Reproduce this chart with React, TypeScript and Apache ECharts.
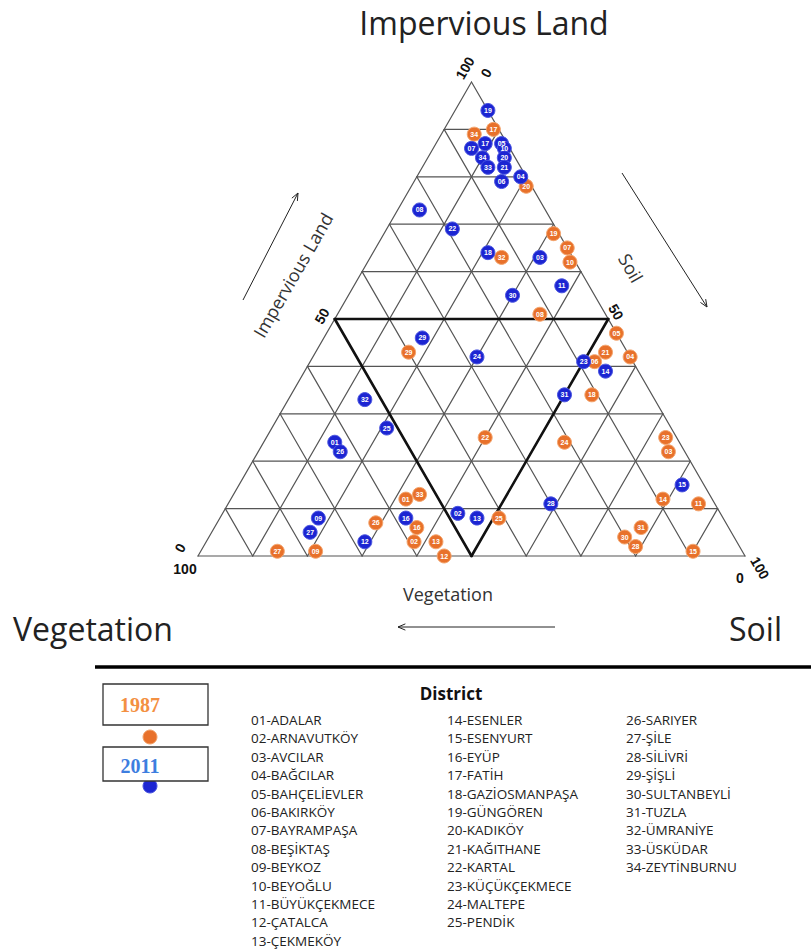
import React, { useEffect, useRef } from "react";
import * as echarts from "echarts";

// Grid tick values (percent) for the ternary diagram
const TICKS = [10, 20, 30, 40, 50, 60, 70, 80, 90];

// 1987 districts: id, Impervious %, Soil % (Vegetation = 100 - both)
const IDS_1987 = ["17", "34", "20", "19", "07", "10", "32", "08", "29", "05", "21", "04", "06", "18", "22", "24", "23", "03", "14", "11", "31", "30", "28", "15", "27", "09", "26", "01", "33", "16", "02", "13", "12", "25"];
const IMP_1987 = [90, 89, 78, 68, 65, 62, 63, 51, 43, 47, 43, 42, 41, 34, 25, 24, 25, 22, 12, 11, 6, 4, 2, 1, 1, 1, 7, 12, 13, 6, 3, 3, 0, 8];
const SOIL_1987 = [9, 6, 21, 31, 35, 37, 24, 37, 17, 53, 53, 58, 52, 55, 40, 55, 73, 75, 79, 86, 78, 76, 79, 90, 14, 21, 29, 32, 34, 37, 38, 42, 45, 51];

// 2011 districts
const IDS_2011 = ["19", "17", "05", "07", "10", "34", "20", "33", "21", "04", "06", "08", "22", "18", "03", "11", "30", "29", "24", "23", "14", "31", "32", "25", "01", "26", "15", "28", "09", "27", "12", "16", "02", "13"];
const IMP_2011 = [94, 87, 87, 86, 86, 84, 84, 82, 82, 80, 79, 73, 69, 64, 63, 57, 55, 46, 42, 41, 39, 34, 33, 27, 24, 22, 15, 11, 8, 5, 3, 8, 9, 8];
const SOIL_2011 = [6, 9, 12, 7, 13, 10, 14, 12, 15, 19, 16, 4, 12, 21, 31, 38, 30, 18, 30, 50, 55, 50, 14, 21, 13, 15, 81, 59, 18, 18, 29, 34, 43, 47];

const DISTRICTS = [
  "01-ADALAR", "02-ARNAVUTKÖY", "03-AVCILAR", "04-BAĞCILAR", "05-BAHÇELİEVLER", "06-BAKIRKÖY",
  "07-BAYRAMPAŞA", "08-BEŞİKTAŞ", "09-BEYKOZ", "10-BEYOĞLU", "11-BÜYÜKÇEKMECE", "12-ÇATALCA",
  "13-ÇEKMEKÖY", "14-ESENLER", "15-ESENYURT", "16-EYÜP", "17-FATİH", "18-GAZİOSMANPAŞA",
  "19-GÜNGÖREN", "20-KADIKÖY", "21-KAĞITHANE", "22-KARTAL", "23-KÜÇÜKÇEKMECE", "24-MALTEPE",
  "25-PENDİK", "26-SARIYER", "27-ŞİLE", "28-SİLİVRİ", "29-ŞİŞLİ", "30-SULTANBEYLİ", "31-TUZLA",
  "32-ÜMRANİYE", "33-ÜSKÜDAR", "34-ZEYTİNBURNU",
];

const AXIS_TITLES = ["Impervious Land", "Vegetation", "Soil"];
const YEARS = ["1987", "2011"];

// ternary (impervious, soil) -> cartesian data coords
const tern = (imp: number, soil: number) => [soil + imp / 2, imp];

const FONT = '"Open Sans", "Noto Sans", sans-serif';
const BOLD = '"Liberation Sans", Arial, sans-serif';
const ORANGE = "#E8712B";
const BLUE = "#1C25D2";

function buildGridLines() {
  const lines: number[][] = [];
  for (const t of TICKS) {
    lines.push([...tern(t, 0), ...tern(t, 100 - t)]);
    lines.push([...tern(0, t), ...tern(100 - t, t)]);
    lines.push([...tern(0, 100 - t), ...tern(100 - t, 0)]);
  }
  lines.push([...tern(0, 0), ...tern(0, 100)]);
  lines.push([...tern(0, 100), ...tern(100, 0)]);
  lines.push([...tern(100, 0), ...tern(0, 0)]);
  return lines;
}

function buildMedial() {
  return [
    [...tern(50, 0), ...tern(50, 50)],
    [...tern(50, 50), ...tern(0, 50)],
    [...tern(0, 50), ...tern(50, 0)],
  ];
}

const lineRender = (color: string, width: number) => (params: any, api: any) => {
  const p1 = api.coord([api.value(0), api.value(1)]);
  const p2 = api.coord([api.value(2), api.value(3)]);
  return {
    type: "line",
    shape: { x1: p1[0], y1: p1[1], x2: p2[0], y2: p2[1] },
    style: { stroke: color, lineWidth: width, lineCap: "round" },
  };
};

function pts(ids: string[], imp: number[], soil: number[]) {
  return ids.map((id, i) => [...tern(imp[i], soil[i]), id]);
}

function arrow(x1: number, y1: number, x2: number, y2: number) {
  const ang = Math.atan2(y2 - y1, x2 - x1);
  const L = 8;
  const a1 = ang + Math.PI - 0.4;
  const a2 = ang + Math.PI + 0.4;
  return [
    { type: "line", shape: { x1, y1, x2, y2 }, style: { stroke: "#222", lineWidth: 1 } },
    {
      type: "polyline",
      shape: {
        points: [
          [x2 + L * Math.cos(a1), y2 + L * Math.sin(a1)],
          [x2, y2],
          [x2 + L * Math.cos(a2), y2 + L * Math.sin(a2)],
        ],
      },
      style: { stroke: "#222", lineWidth: 1, fill: null },
    },
  ];
}

function tickText(text: string, x: number, y: number, rot: number) {
  return {
    type: "text",
    x,
    y,
    rotation: rot,
    style: {
      text,
      font: `bold 14px ${BOLD}`,
      fill: "#111",
      align: "center",
      verticalAlign: "middle",
    },
  };
}

export default function App() {
  const ref = useRef<HTMLDivElement>(null);

  useEffect(() => {
    if (!ref.current) return;
    const chart = echarts.init(ref.current, undefined, { renderer: "svg" });

    const listItems = DISTRICTS.map((d, i) => {
      let col = 0;
      let row = i;
      if (i >= 25) {
        col = 2;
        row = i - 25;
      } else if (i >= 13) {
        col = 1;
        row = i - 13;
      }
      const xs = [251, 447, 626];
      return {
        type: "text",
        x: xs[col],
        y: 720 + row * 18.4,
        style: {
          text: d,
          font: `13.5px ${FONT}`,
          fill: "#222",
          align: "left",
          verticalAlign: "middle",
        },
      };
    });

    const graphic: any[] = [
      {
        type: "text",
        x: 484,
        y: 22,
        style: { text: AXIS_TITLES[0], font: `32px ${FONT}`, fill: "#222", align: "center", verticalAlign: "middle" },
      },
      {
        type: "text",
        x: 13,
        y: 628,
        style: { text: AXIS_TITLES[1], font: `32px ${FONT}`, fill: "#222", align: "left", verticalAlign: "middle" },
      },
      {
        type: "text",
        x: 729,
        y: 628,
        style: { text: AXIS_TITLES[2], font: `32px ${FONT}`, fill: "#222", align: "left", verticalAlign: "middle" },
      },
      {
        type: "text",
        x: 448,
        y: 594,
        style: { text: AXIS_TITLES[1], font: `18px ${FONT}`, fill: "#333", align: "center", verticalAlign: "middle" },
      },
      {
        type: "text",
        x: 293,
        y: 275,
        rotation: Math.PI / 3,
        style: { text: AXIS_TITLES[0], font: `18px ${FONT}`, fill: "#333", align: "center", verticalAlign: "middle" },
      },
      {
        type: "text",
        x: 631,
        y: 268,
        rotation: -Math.PI / 3,
        style: { text: AXIS_TITLES[2], font: `18px ${FONT}`, fill: "#333", align: "center", verticalAlign: "middle" },
      },
      ...arrow(243, 300, 298, 193),
      ...arrow(622, 173, 707, 307),
      ...arrow(555, 627, 398, 627),
      tickText("100", 465, 68, Math.PI / 3),
      tickText("0", 486, 73, Math.PI / 3),
      tickText("50", 322, 316, Math.PI / 3),
      tickText("50", 616, 312, -Math.PI / 3),
      tickText("0", 180, 548, Math.PI / 3),
      tickText("100", 185, 569, 0),
      tickText("100", 760, 568, -Math.PI / 3),
      tickText("0", 740, 578, 0),
      {
        type: "line",
        shape: { x1: 95, y1: 667, x2: 811, y2: 667 },
        style: { stroke: "#000", lineWidth: 3.5 },
      },
      { type: "circle", shape: { cx: 150, cy: 737, r: 7 }, style: { fill: ORANGE, stroke: "#F3A46C", lineWidth: 1 } },
      { type: "circle", shape: { cx: 150, cy: 786, r: 7 }, style: { fill: BLUE, stroke: "#4a55e0", lineWidth: 1 } },
      {
        type: "rect",
        shape: { x: 103, y: 684, width: 105, height: 41 },
        style: { fill: "#fff", stroke: "#333", lineWidth: 1.3 },
      },
      {
        type: "text",
        x: 140,
        y: 705,
        style: { text: YEARS[0], font: `bold 20px "Liberation Serif", serif`, fill: "#F39042", align: "center", verticalAlign: "middle" },
      },
      {
        type: "rect",
        shape: { x: 103, y: 747, width: 105, height: 34 },
        style: { fill: "#fff", stroke: "#333", lineWidth: 1.3 },
      },
      {
        type: "text",
        x: 140,
        y: 766,
        style: { text: YEARS[1], font: `bold 20px "Liberation Serif", serif`, fill: "#3D7EDF", align: "center", verticalAlign: "middle" },
      },
      {
        type: "text",
        x: 451,
        y: 693,
        style: { text: "District", font: `bold 17px ${FONT}`, fill: "#111", align: "center", verticalAlign: "middle" },
      },
      ...listItems,
    ];

    const labelCfg = {
      show: true,
      position: "inside",
      formatter: (p: any) => p.value[2],
      color: "#fff",
      fontSize: 7,
      fontWeight: "bold",
      fontFamily: BOLD,
    };

    chart.setOption({
      animation: false,
      grid: { left: 198, top: 82, width: 547, height: 474, containLabel: false },
      xAxis: { type: "value", min: 0, max: 100, show: false },
      yAxis: { type: "value", min: 0, max: 100, show: false },
      graphic,
      series: [
        {
          type: "custom",
          name: "grid",
          renderItem: lineRender("#555", 1.2),
          data: buildGridLines(),
          dimensions: ["x1", "y1", "x2", "y2"],
          encode: { x: [0, 2], y: [1, 3] },
          clip: false,
          silent: true,
          z: 1,
        },
        {
          type: "custom",
          name: "medial",
          renderItem: lineRender("#111", 2.6),
          data: buildMedial(),
          dimensions: ["x1", "y1", "x2", "y2"],
          encode: { x: [0, 2], y: [1, 3] },
          clip: false,
          silent: true,
          z: 2,
        },
        {
          type: "scatter",
          name: YEARS[0],
          data: pts(IDS_1987, IMP_1987, SOIL_1987),
          symbolSize: 14,
          itemStyle: { color: ORANGE, borderColor: "#F4A56E", borderWidth: 1, opacity: 1 },
          label: labelCfg,
          clip: false,
          z: 3,
        },
        {
          type: "scatter",
          name: YEARS[1],
          data: pts(IDS_2011, IMP_2011, SOIL_2011),
          symbolSize: 14,
          itemStyle: { color: BLUE, borderColor: "#4a55e0", borderWidth: 1, opacity: 1 },
          label: labelCfg,
          clip: false,
          z: 4,
        },
      ],
    });

    return () => chart.dispose();
  }, []);

  return (
    <div
      ref={ref}
      style={{ position: "fixed", left: 0, top: 0, width: 811, height: 951, background: "#fff" }}
    />
  );
}
